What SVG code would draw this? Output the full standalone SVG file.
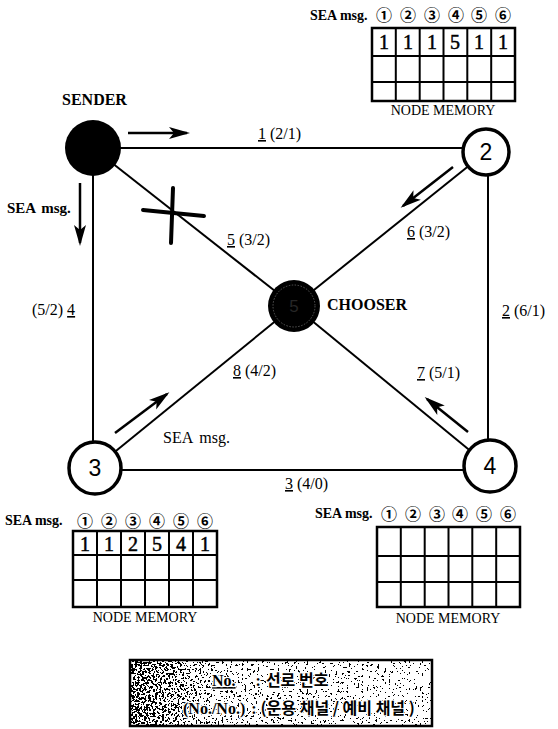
<svg xmlns="http://www.w3.org/2000/svg" width="558" height="729" viewBox="0 0 558 729">
<style>
.edge{stroke:#000;stroke-width:2;fill:none}
.node{fill:#fff;stroke:#000;stroke-width:3.5}
.num{font-family:"Liberation Sans",Arial,sans-serif;font-size:23px;text-anchor:middle}
.lbl{font-family:"Liberation Serif","Times New Roman",serif;font-size:16px}
.b{font-weight:bold}
.arrow{stroke:#000;stroke-width:2.5;fill:none;marker-end:url(#ah)}
.grid{stroke:#000;stroke-width:2;fill:none}
.gbox{stroke:#000;stroke-width:2.5;fill:#fff}
.cnum{font-family:"Noto Sans CJK KR","DejaVu Sans",sans-serif;font-size:16px;font-weight:bold;text-anchor:middle}
.val{font-family:"Liberation Serif","Times New Roman",serif;font-size:20px;text-anchor:middle;stroke:#000;stroke-width:0.5}
.mem{font-family:"Liberation Serif","Times New Roman",serif;font-size:14px;text-anchor:middle}
.tsea{font-family:"Liberation Serif","Times New Roman",serif;font-size:14px;font-weight:bold}
.leg{font-family:"Liberation Serif","Noto Sans CJK KR",serif;font-size:16px;font-weight:bold;stroke:#fff;stroke-width:2.5;paint-order:stroke;stroke-linejoin:round}
.kr{font-family:"Noto Sans CJK KR",sans-serif;font-weight:bold}
</style>
<defs>
<marker id="ah" markerUnits="userSpaceOnUse" markerWidth="21" markerHeight="14" refX="18" refY="7" orient="auto">
<path d="M0,1 L21,7 L0,13 L5,7 z" fill="#000"/>
</marker>
<linearGradient id="lg" x1="0" x2="1" y1="0" y2="0">
<stop offset="0" stop-color="#000" stop-opacity="0.56"/>
<stop offset="0.12" stop-color="#000" stop-opacity="0.45"/>
<stop offset="0.3" stop-color="#000" stop-opacity="0.26"/>
<stop offset="1" stop-color="#000" stop-opacity="0.18"/>
</linearGradient>
<filter id="spk" x="0" y="0" width="1" height="1" color-interpolation-filters="sRGB">
<feTurbulence type="fractalNoise" baseFrequency="0.45" numOctaves="2" seed="4" result="t"/>
<feColorMatrix in="t" type="matrix" values="0 0 0 0 0  0 0 0 0 0  0 0 0 0 0  2 0 0 0 -0.5" result="n"/>
<feComposite in="n" in2="SourceGraphic" operator="arithmetic" k1="0" k2="1" k3="1" k4="-0.53" result="c"/>
<feComponentTransfer in="c"><feFuncA type="discrete" tableValues="0 1"/></feComponentTransfer>
</filter>
</defs>
<rect width="558" height="729" fill="#fff"/>

<g id="connectors">
<line id="e1" class="edge" x1="93" y1="148" x2="486" y2="148"/>
<line id="e4" class="edge" x1="93" y1="148" x2="93" y2="468"/>
<line id="e2" class="edge" x1="488" y1="152" x2="488" y2="467"/>
<line id="e3" class="edge" x1="95" y1="470" x2="490" y2="470"/>
<line id="e5" class="edge" x1="93" y1="148" x2="294" y2="306"/>
<line id="e6" class="edge" x1="486" y1="152" x2="294" y2="306"/>
<line id="e7" class="edge" x1="294" y1="306" x2="490" y2="467"/>
<line id="e8" class="edge" x1="95" y1="468" x2="294" y2="306"/>
<g id="cross" stroke="#000" stroke-width="4" stroke-linecap="round">
<line x1="143" y1="210" x2="204" y2="216"/>
<line x1="173" y1="188" x2="171" y2="243"/>
</g>
<path class="arrow" d="M128,133 L187,133"/>
<path class="arrow" d="M80,183 L80,243"/>
<path class="arrow" d="M453,167 L403,206"/>
<path class="arrow" d="M468,432 L427,399"/>
<path class="arrow" d="M115,433 L167,394"/>
</g>

<g id="edge-labels" class="lbl">
<text x="258" y="139"><tspan text-decoration="underline">1</tspan> (2/1)</text>
<text x="227" y="245"><tspan text-decoration="underline">5</tspan> (3/2)</text>
<text x="407" y="237"><tspan text-decoration="underline">6</tspan> (3/2)</text>
<text x="32" y="315">(5/2) <tspan text-decoration="underline">4</tspan></text>
<text x="502" y="316"><tspan text-decoration="underline">2</tspan> (6/1)</text>
<text x="233" y="376"><tspan text-decoration="underline">8</tspan> (4/2)</text>
<text x="417" y="378"><tspan text-decoration="underline">7</tspan> (5/1)</text>
<text x="285" y="489"><tspan text-decoration="underline">3</tspan> (4/0)</text>
<text x="163" y="443">SEA<tspan dx="6">msg.</tspan></text>
<text class="b" x="7" y="213" font-size="15">SEA<tspan dx="5">msg.</tspan></text>
</g>

<g id="sender">
<circle cx="93" cy="148" r="28" fill="#000"/>
<text class="lbl b" x="62" y="105" font-size="15.5">SENDER</text>
</g>
<g id="chooser">
<circle cx="294" cy="306" r="26" fill="#000"/>
<circle cx="294" cy="306" r="21" fill="none" stroke="#6a6a6a" stroke-width="0.8" stroke-dasharray="1.5 1.5"/>
<text x="294" y="312" font-family="Liberation Sans,sans-serif" font-size="17" fill="#262626" text-anchor="middle">5</text>
<text class="lbl b" x="327" y="310">CHOOSER</text>
</g>
<g id="node2">
<circle class="node" cx="486" cy="152" r="23"/>
<text class="num" x="486" y="160">2</text>
</g>
<g id="node3">
<circle class="node" cx="95" cy="468" r="26"/>
<text class="num" x="95" y="476">3</text>
</g>
<g id="node4">
<circle class="node" cx="490" cy="466" r="26"/>
<text class="num" x="490" y="474">4</text>
</g>

<g id="memory-top">
<text class="tsea" x="310" y="20">SEA msg.</text>
<g class="cnum"><text x="384" y="21">①</text><text x="408" y="21">②</text><text x="432" y="21">③</text><text x="456" y="21">④</text><text x="479" y="21">⑤</text><text x="503" y="21">⑥</text></g>
<rect class="gbox" x="372" y="28" width="143" height="73"/>
<path class="grid" d="M372,56 H515 M372,82 H515 M395.8,28 V101 M419.7,28 V101 M443.5,28 V101 M467.3,28 V101 M491.2,28 V101"/>
<g class="val"><text x="384" y="49">1</text><text x="408" y="49">1</text><text x="432" y="49">1</text><text x="455" y="49">5</text><text x="479" y="49">1</text><text x="503" y="49">1</text></g>
<text class="mem" x="443" y="115">NODE MEMORY</text>
</g>

<g id="memory-3">
<text class="tsea" x="5" y="525">SEA msg.</text>
<g class="cnum"><text x="85" y="527">①</text><text x="109" y="527">②</text><text x="133" y="527">③</text><text x="157" y="527">④</text><text x="181" y="527">⑤</text><text x="205" y="527">⑥</text></g>
<rect class="gbox" x="73" y="531" width="144" height="76"/>
<path class="grid" d="M73,555 H217 M73,580 H217 M97,531 V607 M121,531 V607 M145,531 V607 M169,531 V607 M193,531 V607"/>
<g class="val"><text x="85" y="551">1</text><text x="109" y="551">1</text><text x="133" y="551">2</text><text x="157" y="551">5</text><text x="181" y="551">4</text><text x="205" y="551">1</text></g>
<text class="mem" x="145" y="622">NODE MEMORY</text>
</g>

<g id="memory-4">
<text class="tsea" x="315" y="518">SEA msg.</text>
<g class="cnum"><text x="389" y="520">①</text><text x="413" y="520">②</text><text x="437" y="520">③</text><text x="460" y="520">④</text><text x="484" y="520">⑤</text><text x="508" y="520">⑥</text></g>
<rect class="gbox" x="377" y="527" width="143" height="80"/>
<path class="grid" d="M377,556 H520 M377,582 H520 M400.8,527 V607 M424.7,527 V607 M448.5,527 V607 M472.3,527 V607 M496.2,527 V607"/>
<text class="mem" x="448" y="623">NODE MEMORY</text>
</g>

<g id="legend">
<rect x="130" y="660" width="302" height="66" fill="#fff"/>
<rect x="130" y="660" width="302" height="66" fill="url(#lg)" filter="url(#spk)"/>
<text class="leg" x="212" y="686"><tspan text-decoration="underline">No.</tspan><tspan dx="20">:</tspan><tspan class="kr" dx="5" font-size="16">선로 번호</tspan></text>
<text class="leg" x="183" y="714">(No./No.)<tspan dx="6">:</tspan><tspan class="kr" dx="4" font-size="16">(운용 채널 / 예비 채널 )</tspan></text>
<rect x="130" y="660" width="302" height="66" fill="none" stroke="#000" stroke-width="2.5"/>
</g>
</svg>
